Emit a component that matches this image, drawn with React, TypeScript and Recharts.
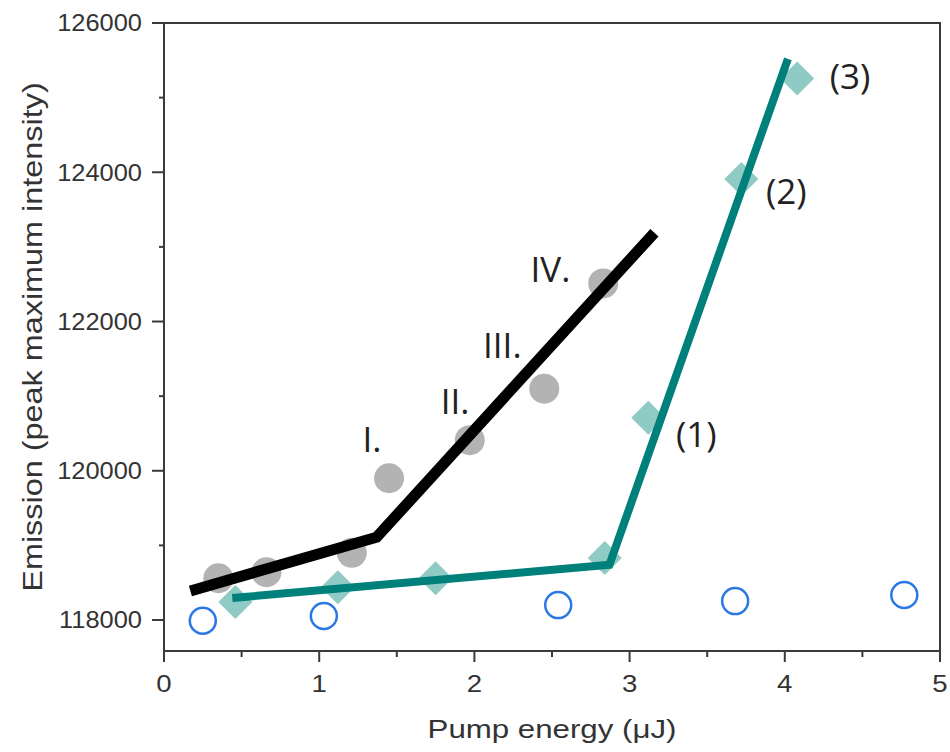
import { ScatterChart, Scatter, XAxis, YAxis, ReferenceArea } from "recharts";

// open blue circles
const pumpBlue = [0.25, 1.03, 2.54, 3.68, 4.77];
const emisBlue = [117990, 118054, 118200, 118254, 118335];
// grey filled circles
const pumpGray = [0.35, 0.66, 1.21, 1.45, 1.97, 2.45, 2.83];
const emisGray = [118560, 118640, 118900, 119900, 120410, 121100, 122510];
// teal diamonds
const pumpTeal = [0.46, 1.12, 1.75, 2.84, 3.12, 3.72, 4.08];
const emisTeal = [118240, 118440, 118560, 118830, 120710, 123910, 125256];
// piecewise linear fits
const fitBlackX = [0.17, 1.37, 3.16];
const fitBlackY = [118390, 119110, 123190];
const fitTealX = [0.44, 2.87, 4.02];
const fitTealY = [118295, 118740, 125520];
// annotations
const noteText = ["I.", "II.", "III.", "IV.", "(1)", "(2)", "(3)"];
const noteX = [1.34, 1.875, 2.18, 2.49, 3.43, 4.01, 4.42];
const noteY = [120436, 120945, 121695, 122712, 120500, 123756, 125296];

const xTicks = [0, 0.5, 1, 1.5, 2, 2.5, 3, 3.5, 4, 4.5, 5];
const yTicks = [118000, 119000, 120000, 121000, 122000, 123000, 124000, 125000, 126000];
const yMajor = [118000, 120000, 122000, 124000, 126000];

const pts = (xs: number[], ys: number[]) => xs.map((x, i) => ({ x, y: ys[i] }));
const blueData = pts(pumpBlue, emisBlue);
const grayData = pts(pumpGray, emisGray);
const tealData = pts(pumpTeal, emisTeal);
const blackFit = pts(fitBlackX, fitBlackY);
const tealFit = pts(fitTealX, fitTealY);
const notes = noteText.map((label, i) => ({ x: noteX[i], y: noteY[i], label }));

const axisColor = "#3a3a3a";
const tickFont = "'Liberation Sans', Arial, sans-serif";

const stretchX = (cx: number, k: number) => `translate(${cx} 0) scale(${k} 1) translate(${-cx} 0)`;

const XTick = (props: any) => {
  const { x, y, payload } = props;
  const major = Number.isInteger(payload.value);
  return (
    <g>
      <line x1={x} x2={x} y1={y} y2={y + (major ? 11 : 6)} stroke={axisColor} strokeWidth={2} />
      {major && (
        <text x={x} y={y + 41} textAnchor="middle" fontSize={24} fontFamily={tickFont} fill="#333" transform={stretchX(x, 1.15)}>
          {payload.value}
        </text>
      )}
    </g>
  );
};

const YTick = (props: any) => {
  const { x, y, payload } = props;
  const major = yMajor.includes(payload.value);
  const tx = x - 22;
  return (
    <g>
      <line x1={x} x2={x - (major ? 12 : 5)} y1={y} y2={y} stroke={axisColor} strokeWidth={2} />
      {major && (
        <text x={tx} y={y} textAnchor="end" dominantBaseline="central" fontSize={24} fontFamily={tickFont} fill="#333" transform={stretchX(tx, 1.06)}>
          {payload.value}
        </text>
      )}
    </g>
  );
};

const XTitle = (props: any) => {
  const vb = props.viewBox;
  const cx = vb.x + vb.width / 2;
  return (
    <text x={cx} y={738} textAnchor="middle" fontSize={25} fontFamily={tickFont} fill="#333" transform={stretchX(cx, 1.25)}>
      Pump energy (μJ)
    </text>
  );
};

const YTitle = (props: any) => {
  const vb = props.viewBox;
  const cx = 33;
  const cy = vb.y + vb.height / 2;
  return (
    <text
      x={cx}
      y={cy}
      transform={`rotate(-90 ${cx} ${cy}) ${stretchX(cx, 1.2)}`}
      textAnchor="middle"
      dominantBaseline="central"
      fontSize={27}
      fontFamily={tickFont}
      fill="#333"
    >
      Emission (peak maximum intensity)
    </text>
  );
};

const OpenCircle = (p: any) => <circle cx={p.cx} cy={p.cy} r={13} fill="none" stroke="#2b78e4" strokeWidth={2.5} />;
const GrayDot = (p: any) => <circle cx={p.cx} cy={p.cy} r={15} fill="#b3b3b3" />;
const Diamond = (p: any) => {
  const h = 17;
  return (
    <polygon
      points={`${p.cx},${p.cy - h} ${p.cx + h},${p.cy} ${p.cx},${p.cy + h} ${p.cx - h},${p.cy}`}
      fill="#8fcbc4"
    />
  );
};
const Nothing = () => <g />;
const Note = (p: any) => (
  <text x={p.cx} y={p.cy} textAnchor="middle" dominantBaseline="central" fontSize={35} fontFamily="'Open Sans', sans-serif" fill="#222">
    {p.payload?.label ?? p.label}
  </text>
);

export default function App() {
  return (
    <div style={{ position: "absolute", left: 0, top: 0, width: 950, height: 752, background: "#fff" }}>
      <ScatterChart width={950} height={752} margin={{ top: 23, right: 10, bottom: 0, left: 0 }}>
        <XAxis
          type="number"
          dataKey="x"
          domain={[0, 5]}
          ticks={xTicks}
          interval={0}
          height={101}
          tickSize={0}
          tickMargin={0}
          tickLine={false}
          tick={<XTick />}
          axisLine={{ stroke: axisColor, strokeWidth: 2 }}
          label={<XTitle />}
        />
        <YAxis
          type="number"
          dataKey="y"
          domain={[117585, 126000]}
          ticks={yTicks}
          interval={0}
          width={164}
          tickSize={0}
          tickMargin={0}
          tickLine={false}
          tick={<YTick />}
          axisLine={{ stroke: axisColor, strokeWidth: 2 }}
          allowDataOverflow
          label={<YTitle />}
        />
        <ReferenceArea x1={0} x2={5} y1={117585} y2={126000} fill="none" stroke={axisColor} strokeWidth={2} />
        <Scatter data={blueData} shape={OpenCircle} isAnimationActive={false} />
        <Scatter data={grayData} shape={GrayDot} isAnimationActive={false} />
        <Scatter data={tealData} shape={Diamond} isAnimationActive={false} />
        <Scatter data={blackFit} shape={Nothing} line={{ stroke: "#000", strokeWidth: 11 }} lineType="joint" isAnimationActive={false} />
        <Scatter data={tealFit} shape={Nothing} line={{ stroke: "#00807a", strokeWidth: 8 }} lineType="joint" isAnimationActive={false} />
        <Scatter data={notes} shape={Note} isAnimationActive={false} />
      </ScatterChart>
    </div>
  );
}
